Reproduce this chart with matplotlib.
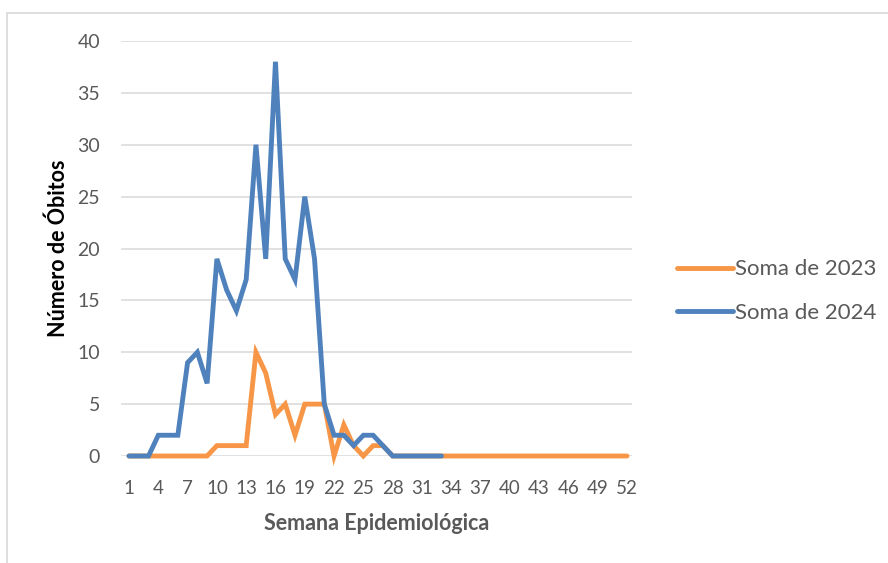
import matplotlib
matplotlib.use("Agg")
import matplotlib.pyplot as plt
from matplotlib.patches import Rectangle

weeks = list(range(1, 53))
tick_weeks = list(range(1, 53, 3))

soma_2023 = [0, 0, 0, 0, 0, 0, 0, 0, 0, 1,
             1, 1, 1, 10, 8, 4, 5, 2, 5, 5,
             5, 0, 3, 1, 0, 1, 1, 0, 0, 0,
             0, 0, 0, 0, 0, 0, 0, 0, 0, 0,
             0, 0, 0, 0, 0, 0, 0, 0, 0, 0,
             0, 0]
weeks_2024 = list(range(1, 34))
soma_2024 = [0, 0, 0, 2, 2, 2, 9, 10, 7, 19,
             16, 14, 17, 30, 19, 38, 19, 17, 25, 19,
             5, 2, 2, 1, 2, 2, 1, 0, 0, 0,
             0, 0, 0]

y_ticks = [0, 5, 10, 15, 20, 25, 30, 35, 40]
series_labels = ["Soma de 2023", "Soma de 2024"]
x_title = "Semana Epidemiológica"
y_title = "Número de Óbitos"

c_orange = "#F79646"
c_blue = "#4F81BD"
txt = "#595959"

plt.rcParams['font.family'] = ['Lato', 'DejaVu Sans']

W, H = 888, 563
fig = plt.figure(figsize=(W / 100, H / 100), dpi=100)
fig.patch.set_facecolor("white")

# chart frame (clipped)
fig.patches.append(Rectangle((7 / W, -0.1), 1.1, (H - 13) / H + 0.1,
                             transform=fig.transFigure, fill=False,
                             edgecolor="#D9D9D9", linewidth=1.2))

ax = fig.add_axes([121 / W, (H - 456) / H, 511 / W, 415 / H])
ax.set_facecolor("none")

px = (627 - 129) / 51.0
ax.set_xlim(1 - 8 / px, 52 + 5 / px)
ax.set_ylim(0, 40)

ax.plot(weeks, soma_2023, color=c_orange, lw=3.5, solid_capstyle="round",
        solid_joinstyle="miter", clip_on=False, label=series_labels[0], zorder=3)
ax.plot(weeks_2024, soma_2024, color=c_blue, lw=3.5, solid_capstyle="round",
        solid_joinstyle="miter", clip_on=False, label=series_labels[1], zorder=4)

ax.set_yticks(y_ticks)
ax.set_xticks(tick_weeks)
ax.set_xticklabels([str(t) for t in tick_weeks])
ax.grid(axis="y", color="#D9D9D9", linewidth=1.1, zorder=0)
ax.grid(axis="x", visible=False)
for s in ax.spines.values():
    s.set_visible(False)
ax.tick_params(axis="y", length=0, labelsize=14, labelcolor=txt, pad=15)
ax.tick_params(axis="x", length=0, labelsize=13.5, labelcolor=txt, pad=17)

ax.set_xlabel(x_title, fontsize=15.5, fontweight="bold", color=txt)
ax.xaxis.set_label_coords((377 - 121) / 511, (456 - 524) / 415)
ax.xaxis.label.set_va("center")
ax.set_ylabel(y_title, fontsize=15.5, fontweight="bold", color="black")
ax.yaxis.set_label_coords((58 - 121) / 511, (456 - 248) / 415)
ax.yaxis.label.set_va("center")

leg = fig.legend(*ax.get_legend_handles_labels(), loc="center left",
                 bbox_to_anchor=(677 / W, (H - 291) / H), bbox_transform=fig.transFigure,
                 frameon=False, fontsize=16, handlelength=2.5, handletextpad=0.12,
                 labelspacing=1.05, borderaxespad=0, borderpad=0)
for t in leg.get_texts():
    t.set_color(txt)

fig.savefig("out.png", dpi=100)
